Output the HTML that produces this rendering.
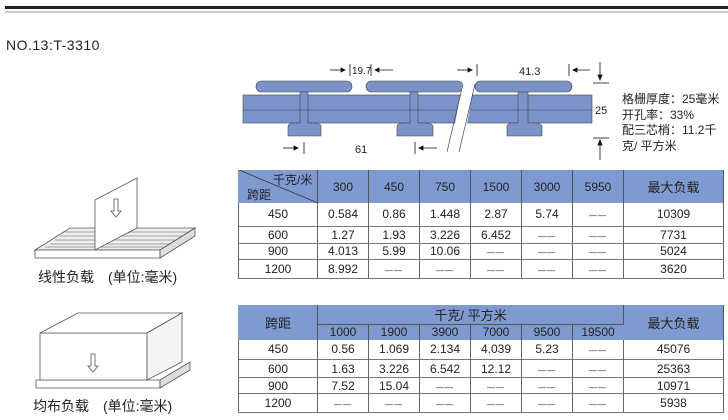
<!DOCTYPE html>
<html><head><meta charset="utf-8"><style>
body{margin:0;width:728px;height:420px;background:#fff;position:relative;overflow:hidden;font-family:"Liberation Sans","Noto Sans CJK SC",sans-serif;color:#222}
.a{position:absolute;white-space:nowrap}
table{position:absolute;border-collapse:collapse;font-size:12px;table-layout:fixed}
td{text-align:center;padding:0;border-left:1px solid #666;border-right:1px solid #666}
.h td{background:#7f9ad0;border-color:#7f9ad0;border-right:1px solid #555}
.b td{border-top:1px solid #777;border-bottom:1px solid #777}
i{font-style:normal;font-size:8px;letter-spacing:1px}
</style></head><body>
<div class="a" style="left:5px;top:6px;width:723px;height:3px;background:#222"></div>
<div class="a" style="left:5px;top:11px;width:723px;height:2px;background:#ccc"></div>
<div class="a" style="left:6px;top:37px;font-size:14px;letter-spacing:0.5px">NO.13:T-3310</div>

<svg class="a" style="left:0;top:0" width="728" height="420">
<g fill="#7b93c9" stroke="#445" stroke-width="0.6">
<rect x="243" y="95" width="349" height="28"/>
<rect x="256" y="81" width="96" height="11" rx="5.5"/>
<rect x="366" y="81" width="97" height="11" rx="5.5"/>
<rect x="475" y="81" width="97" height="11" rx="5.5"/>
<path d="M288 136 V127 q0-4 6-4 h6 V92 h8 v31 h6 q7 0 7 4 v9 z"/>
<path d="M397 136 V127 q0-4 6-4 h7 V92 h8 v31 h7 q8 0 8 4 v9 z"/>
<path d="M507 136 V127 q0-4 6-4 h5 V92 h10 v31 h6 q8 0 8 4 v9 z"/>
</g>
<line x1="243" y1="110" x2="592" y2="110" stroke="#445" stroke-width="0.6"/>
<polygon points="463,80 475,80 464,140 452,140" fill="#fff"/>
<line x1="463" y1="84" x2="447" y2="152" stroke="#333" stroke-width="0.6"/>
<line x1="475" y1="84" x2="459" y2="152" stroke="#333" stroke-width="0.6"/>
<g stroke="#111" stroke-width="0.8" fill="#111">
<line x1="330" y1="70" x2="345" y2="70"/><polygon points="345,70 341,68 341,72"/><line x1="350" y1="64" x2="350" y2="76"/>
<line x1="371" y1="64" x2="371" y2="76"/><line x1="375" y1="70" x2="393" y2="70"/><polygon points="375,70 379,68 379,72"/>
<line x1="457" y1="70" x2="472" y2="70"/><polygon points="472,70 468,68 468,72"/><line x1="477" y1="64" x2="477" y2="76"/>
<line x1="569" y1="64" x2="569" y2="76"/><line x1="573" y1="70" x2="590" y2="70"/><polygon points="573,70 577,68 577,72"/>
<line x1="283" y1="148" x2="298" y2="148"/><polygon points="298,148 294,146 294,150"/><line x1="304" y1="142" x2="304" y2="154"/>
<line x1="415" y1="142" x2="415" y2="154"/><line x1="419" y1="148" x2="437" y2="148"/><polygon points="419,148 423,146 423,150"/>
<line x1="600" y1="62" x2="600" y2="78"/><polygon points="600,80 598,75 602,75"/><line x1="593" y1="83" x2="609" y2="83"/>
<line x1="593" y1="138" x2="609" y2="138"/><line x1="600" y1="142" x2="600" y2="160"/><polygon points="600,140 598,145 602,145"/>
</g>
<g font-size="11" fill="#222" font-family="Liberation Sans,sans-serif">
<text x="352" y="74" font-size="10">19.7</text><text x="519" y="75">41.3</text><text x="355" y="153">61</text><text x="595" y="114">25</text>
</g>
<g stroke="#555" stroke-width="0.8" fill="#fff">
<polygon points="35,250 160,250 195,228 70,228" fill="#eee"/>
<g stroke="#888"><line x1="45" y1="247" x2="170" y2="247"/><line x1="50" y1="244" x2="175" y2="244"/><line x1="55" y1="240" x2="180" y2="240"/><line x1="60" y1="236" x2="185" y2="236"/><line x1="65" y1="232" x2="190" y2="232"/></g>
<polygon points="35,250 160,250 160,258 35,258"/>
<polygon points="160,250 195,228 195,236 160,258" fill="#ddd"/>
<polygon points="95,200 137,178 137,228 95,250"/>
<path d="M114 199 h4 v12 h3 l-5 6 l-5 -6 h3 z"/>
<polygon points="36,380 160,380 160,388 36,388"/>
<polygon points="160,380 190,362 190,370 160,388" fill="#ddd"/>
<polygon points="40,333 147,333 147,380 40,380"/>
<polygon points="40,333 147,333 182,313 78,313"/>
<polygon points="147,333 182,313 182,362 147,380" fill="#f4f4f4"/>
<path d="M91 354 h4 v12 h3 l-5 6 l-5 -6 h3 z"/>
</g>
</svg>
<div class="a" style="left:38px;top:267px;font-size:14px">线性负载　(单位:毫米)</div>
<div class="a" style="left:33px;top:396px;font-size:14px">均布负载　(单位:毫米)</div>
<div class="a" style="left:622px;top:92px;font-size:12px;line-height:15.5px">格栅厚度：25毫米<br>开孔率：33%<br>配三芯梢：11.2千<br>克/ 平方米</div>

<table style="left:238px;top:170px;width:485px">
<colgroup><col style="width:79px"><col style="width:51px"><col style="width:51px"><col style="width:51px"><col style="width:51px"><col style="width:51px"><col style="width:51px"><col style="width:100px"></colgroup>
<tr class="h" style="height:33px"><td style="position:relative;text-align:left"><svg style="position:absolute;left:0;top:0" width="79" height="33"><line x1="0" y1="0" x2="79" y2="33" stroke="#333" stroke-width="0.8"/></svg><span style="position:absolute;left:34px;top:1px">千克/米</span><span style="position:absolute;left:8px;top:16px">跨距</span></td><td>300</td><td>450</td><td>750</td><td>1500</td><td>3000</td><td>5950</td><td style="font-size:13px">最大负载</td></tr>
<tr style="height:23px"><td>450</td><td>0.584</td><td>0.86</td><td>1.448</td><td>2.87</td><td>5.74</td><td><i>——</i></td><td>10309</td></tr>
<tr class="b" style="height:17px"><td>600</td><td>1.27</td><td>1.93</td><td>3.226</td><td>6.452</td><td><i>——</i></td><td><i>——</i></td><td>7731</td></tr>
<tr style="height:16px"><td>900</td><td>4.013</td><td>5.99</td><td>10.06</td><td><i>——</i></td><td><i>——</i></td><td><i>——</i></td><td>5024</td></tr>
<tr class="b" style="height:19px"><td>1200</td><td>8.992</td><td><i>——</i></td><td><i>——</i></td><td><i>——</i></td><td><i>——</i></td><td><i>——</i></td><td>3620</td></tr>
</table>

<table style="left:238px;top:305px;width:485px">
<colgroup><col style="width:79px"><col style="width:51px"><col style="width:51px"><col style="width:51px"><col style="width:51px"><col style="width:51px"><col style="width:51px"><col style="width:100px"></colgroup>
<tr class="h" style="height:16px"><td rowspan="2" style="font-size:13px">跨距</td><td colspan="6" style="border-bottom:1px solid #555;font-size:13px">千克/ 平方米</td><td rowspan="2" style="font-size:13px">最大负载</td></tr>
<tr class="h" style="height:15px"><td>1000</td><td>1900</td><td>3900</td><td>7000</td><td>9500</td><td>19500</td></tr>
<tr style="height:20px"><td>450</td><td>0.56</td><td>1.069</td><td>2.134</td><td>4.039</td><td>5.23</td><td><i>——</i></td><td>45076</td></tr>
<tr class="b" style="height:18px"><td>600</td><td>1.63</td><td>3.226</td><td>6.542</td><td>12.12</td><td><i>——</i></td><td><i>——</i></td><td>25363</td></tr>
<tr style="height:16px"><td>900</td><td>7.52</td><td>15.04</td><td><i>——</i></td><td><i>——</i></td><td><i>——</i></td><td><i>——</i></td><td>10971</td></tr>
<tr class="b" style="height:19px"><td>1200</td><td><i>——</i></td><td><i>——</i></td><td><i>——</i></td><td><i>——</i></td><td><i>——</i></td><td><i>——</i></td><td>5938</td></tr>
</table>
</body></html>
